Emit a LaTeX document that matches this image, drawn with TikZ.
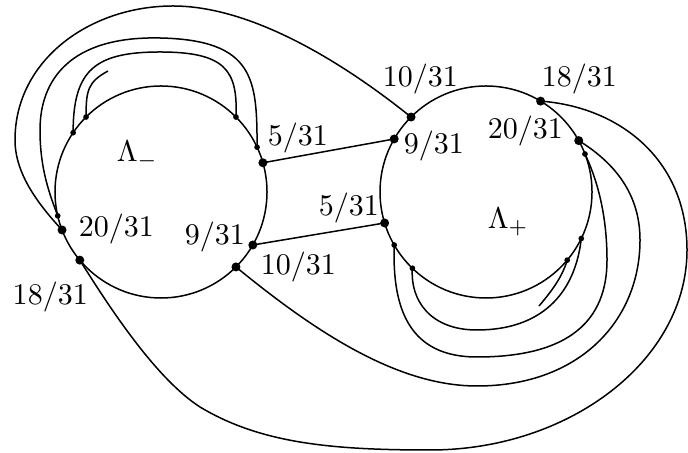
\documentclass[tikz,border=0pt]{standalone}
\begin{document}
\begin{tikzpicture}[x=0.33333pt,y=-0.33333pt,line width=0.5pt,
  ring/.style={draw,circle,inner sep=0pt,outer sep=0pt,minimum size=70.67pt},
  bigdot/.style={circle,fill,inner sep=0pt,minimum size=3pt},
  smalldot/.style={circle,fill,inner sep=0pt,minimum size=1.9pt},
  lab/.style={inner sep=0pt,anchor=base west}]
\useasboundingbox (0,0) rectangle (688,453);
% circles
\node[ring] (Lm) at (161,192) {};
\node[ring] (Rp) at (486,192) {};
% points on the left circle
\node[bigdot] (L5) at (Lm.16) {};
\node[smalldot] (La) at (Lm.25) {};
\node[smalldot] (Lb) at (Lm.45) {};
\node[smalldot] (Lc) at (Lm.135) {};
\node[smalldot] (Ld) at (Lm.146) {};
\node[smalldot] (Le) at (Lm.193) {};
\node[bigdot] (L20) at (Lm.201) {};
\node[bigdot] (L18) at (Lm.220) {};
\node[bigdot] (L10) at (Lm.315) {};
\node[bigdot] (L9) at (Lm.330) {};
% points on the right circle
\node[bigdot] (R10) at (Rp.135) {};
\node[bigdot] (R9) at (Rp.150) {};
\node[bigdot] (R5) at (Rp.197) {};
\node[smalldot] (Ra) at (Rp.210) {};
\node[smalldot] (Rb) at (Rp.226) {};
\node[smalldot] (Rc) at (Rp.320) {};
\node[smalldot] (Rd) at (Rp.334) {};
\node[bigdot] (R18) at (Rp.59.5) {};
\node[bigdot] (R20) at (Rp.29.7) {};
\node[smalldot] (Re) at (Rp.21) {};
% free ends
\coordinate (fL) at (108,71);
\coordinate (fR) at (539,306);
% straight connectors
\draw (L5.center) -- (R9.center);
\draw (L9.center) -- (R5.center);
% curves around the left circle
\draw (L20.center) .. controls (40,206) and (15,175) .. (15,140)
  .. controls (15,60) and (90,6) .. (173,6)
  .. controls (250,6) and (340,60) .. (R10.center);
\draw (La.center) .. controls (257,80) and (255,40) .. (160,38)
  .. controls (70,36) and (40,80) .. (40,130)
  .. controls (40,170) and (50,195) .. (Le.center);
\draw (Lb.center) .. controls (238,70) and (225,52) .. (160,52)
  .. controls (95,52) and (73,70) .. (Ld.center);
\draw (Lc.center) .. controls (86,90) and (88,82) .. (fL);
% long curves between the circles
\draw (L18.center) .. controls (108,305) and (155,378) .. (200,407)
  .. controls (260,443) and (330,450) .. (430,450)
  .. controls (570,450) and (687,360) .. (687,250)
  .. controls (687,160) and (620,107) .. (R18.center);
\draw (L10.center) .. controls (320,336) and (400,386) .. (477,386)
  .. controls (580,386) and (640,320) .. (640,240)
  .. controls (640,190) and (610,160) .. (R20.center);
% curves around the right circle
\draw (Ra.center) .. controls (392,310) and (410,357) .. (477,357)
  .. controls (570,357) and (607,320) .. (607,260)
  .. controls (607,210) and (595,175) .. (Re.center);
\draw (Rb.center) .. controls (410,300) and (430,330) .. (477,330)
  .. controls (540,330) and (575,295) .. (Rd.center);
\draw (Rc.center) .. controls (562,278) and (550,293) .. (fR);
% labels
\node[lab] (tLm) at (116,162) {$\Lambda_-$};
\node[lab] (tRp) at (487,229) {$\Lambda_+$};
\node[lab] (tL5) at (267,146) {$5/31$};
\node[lab] (tL20) at (78,237) {$20/31$};
\node[lab] (tL9) at (184,245) {$9/31$};
\node[lab] (tL10) at (260,275) {$10/31$};
\node[lab] (tL18) at (12,305) {$18/31$};
\node[lab] (tR5) at (318,216) {$5/31$};
\node[lab] (tR10) at (382,87) {$10/31$};
\node[lab] (tR18) at (541,87) {$18/31$};
\node[lab] (tR9) at (403,154) {$9/31$};
\node[lab] (tR20) at (487,139) {$20/31$};
\end{tikzpicture}
\end{document}
